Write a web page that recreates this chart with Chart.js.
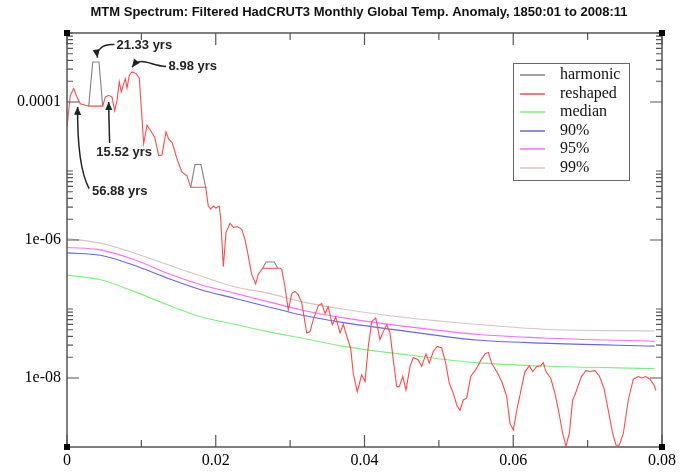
<!DOCTYPE html>
<html>
<head>
<meta charset="utf-8">
<script src="https://cdn.jsdelivr.net/npm/chart.js@4.4.0/dist/chart.umd.min.js"></script>
<style>
    html, body { margin: 0; padding: 0; background: #fff; }
    #wrap { width: 688px; height: 472px; position: relative; }
</style>
</head>
<body>
<div id="wrap"><canvas id="mtmChart"></canvas></div>
<script>
// ---- data ----
var titleText = 'MTM Spectrum: Filtered HadCRUT3 Monthly Global Temp. Anomaly, 1850:01 to 2008:11';

// reshaped spectrum
var redFreq = [0, 0.00044, 0.0009, 0.00134, 0.00179, 0.00292, 0.0048, 0.00515, 0.0056, 0.00605,
    0.00641, 0.00672, 0.00703, 0.0073, 0.00762, 0.00784, 0.00807, 0.00838, 0.00874, 0.00928,
    0.00972, 0.01031, 0.01076, 0.0112, 0.01179, 0.01233, 0.01277, 0.01331, 0.01367, 0.01412,
    0.01479, 0.01546, 0.01613, 0.01663, 0.01865, 0.019, 0.01932, 0.01967, 0.02003, 0.02048,
    0.02067, 0.02102, 0.02138, 0.02192, 0.02236, 0.0229, 0.02349, 0.02393, 0.02438, 0.02483,
    0.02537, 0.02572, 0.02631, 0.02864, 0.02887, 0.02931, 0.02975, 0.03025, 0.03066, 0.0311,
    0.03156, 0.03223, 0.03267, 0.03312, 0.03379, 0.03425, 0.03469, 0.03513, 0.03567, 0.03613,
    0.03671, 0.03715, 0.03769, 0.03814, 0.03849, 0.03903, 0.03962, 0.04007, 0.04051, 0.04097,
    0.04151, 0.04208, 0.04253, 0.04298, 0.04343, 0.04387, 0.04433, 0.04468, 0.04514, 0.04558,
    0.04612, 0.04656, 0.04723, 0.04769, 0.04827, 0.04871, 0.04925, 0.04979, 0.05038, 0.05092,
    0.0514, 0.05194, 0.0524, 0.05284, 0.05328, 0.05374, 0.05428, 0.05509, 0.05567, 0.0562,
    0.05665, 0.0571, 0.05777, 0.05845, 0.05912, 0.05956, 0.06001, 0.06047, 0.06114, 0.06158,
    0.06216, 0.06262, 0.06315, 0.06369, 0.06404, 0.0644, 0.06504, 0.06561, 0.06615, 0.06665,
    0.06709, 0.06754, 0.06799, 0.0683, 0.06875, 0.0692, 0.06978, 0.07032, 0.07099, 0.07157,
    0.0722, 0.07278, 0.07337, 0.07382, 0.07426, 0.0748, 0.07547, 0.07614, 0.07681, 0.07727,
    0.07781, 0.07839, 0.07892, 0.07919];
var redPower = [4.3e-5, 1.25e-4, 1.56e-4, 1.18e-4, 9.4e-5, 8.7e-5, 8.7e-5, 1.18e-4, 1.25e-4, 1.18e-4,
    7.5e-5, 1.05e-4, 1.95e-4, 1.4e-4, 1.85e-4, 2.18e-4, 1.6e-4, 2.44e-4, 2.73e-4, 2.58e-4,
    2.23e-4, 2.5e-5, 4.6e-5, 3.9e-5, 3.1e-5, 1.67e-5, 1.71e-5, 3.7e-5, 2.9e-5, 2.6e-5,
    1.5e-5, 9.6e-6, 8.5e-6, 5.8e-6, 5.8e-6, 3.1e-6, 2.8e-6, 3.1e-6, 2.9e-6, 3.1e-6,
    2.0e-6, 4.1e-7, 1.28e-6, 1.75e-6, 1.52e-6, 1.57e-6, 1.43e-6, 1.02e-6, 5.8e-7, 3.2e-7,
    2.3e-7, 3.2e-7, 3.9e-7, 3.9e-7, 3.75e-7, 2.1e-7, 9.7e-8, 1.7e-7, 1.8e-7, 1.6e-7,
    1.24e-7, 4.5e-8, 4.7e-8, 7.0e-8, 1.12e-7, 1.2e-7, 8.6e-8, 1.07e-7, 5.9e-8, 7.6e-8,
    4.5e-8, 6.0e-8, 3.8e-8, 2.7e-8, 1.17e-8, 6.3e-9, 1.11e-8, 8.9e-9, 2.86e-8, 6.6e-8,
    7.4e-8, 3.6e-8, 4.7e-8, 5.9e-8, 4.5e-8, 1.83e-8, 7.5e-9, 7.5e-9, 1.05e-8, 6.7e-9,
    1.47e-8, 1.98e-8, 1.83e-8, 1.47e-8, 2.24e-8, 1.64e-8, 2.42e-8, 2.86e-8, 2.72e-8, 1.64e-8,
    8.4e-9, 6.0e-9, 4.06e-9, 3.4e-9, 4.8e-9, 5.1e-9, 1.05e-8, 1.39e-8, 1.83e-8, 2.24e-8,
    2.34e-8, 1.64e-8, 1.24e-8, 8.9e-9, 5.4e-9, 2.2e-9, 1.76e-9, 3.4e-9, 7.5e-9, 1.24e-8,
    1.5e-8, 1.24e-8, 1.47e-8, 1.5e-8, 1.67e-8, 1.24e-8, 9.9e-9, 6.0e-9, 3.1e-9, 1.57e-9,
    1.03e-9, 1.57e-9, 4.8e-9, 5.7e-9, 7.9e-9, 1.07e-8, 1.28e-8, 1.24e-8, 1.28e-8, 1.07e-8,
    7.1e-9, 3.4e-9, 1.57e-9, 1.06e-9, 1.06e-9, 1.57e-9, 4.8e-9, 9.6e-9, 1.05e-8, 1.0e-8,
    1.05e-8, 9.6e-9, 7.9e-9, 6.6e-9];

// harmonic peaks (null = break between peaks)
var harmFreq = [0.00292, 0.00346, 0.0043, 0.0048, 0.01, 0.01663, 0.01721, 0.01802, 0.01865, 0.022,
    0.02631, 0.02676, 0.02787, 0.02833];
var harmPower = [8.7e-5, 3.8e-4, 3.8e-4, 8.7e-5, null, 5.8e-6, 1.24e-5, 1.24e-5, 5.8e-6, null,
    3.9e-7, 4.8e-7, 4.8e-7, 3.9e-7];

// confidence levels
var limFreq = [0, 0.0045, 0.009, 0.0135, 0.018, 0.0225, 0.027, 0.0315, 0.037, 0.046, 0.055, 0.064, 0.079];
var medianVals = [3.1e-7, 2.65e-7, 1.8e-7, 1.15e-7, 7.7e-8, 6.0e-8, 4.7e-8, 3.8e-8, 2.9e-8, 2.15e-8, 1.67e-8, 1.49e-8, 1.37e-8];
var p90Vals = [6.5e-7, 6.0e-7, 4.3e-7, 2.8e-7, 1.9e-7, 1.43e-7, 1.08e-7, 8.2e-8, 6.4e-8, 4.7e-8, 3.55e-8, 3.2e-8, 2.9e-8];
var p95Vals = [7.8e-7, 7.2e-7, 5.2e-7, 3.3e-7, 2.25e-7, 1.7e-7, 1.28e-7, 9.7e-8, 7.5e-8, 5.5e-8, 4.3e-8, 3.8e-8, 3.4e-8];
var p99Vals = [1.05e-6, 9.0e-7, 6.5e-7, 4.4e-7, 3.0e-7, 2.1e-7, 1.7e-7, 1.28e-7, 1.0e-7, 7.4e-8, 6.0e-8, 5.1e-8, 4.8e-8];

// axes
var xTickValues = [0, 0.02, 0.04, 0.06, 0.08];
var xTickLabels = ['0', '0.02', '0.04', '0.06', '0.08'];
var xMinorValues = [0.01, 0.03, 0.05, 0.07];
var yTickValues = [1e-8, 1e-6, 1e-4];
var yTickLabels = ['1e-08', '1e-06', '0.0001'];

// annotated peaks
var annoLabels = ['21.33 yrs', '8.98 yrs', '15.52 yrs', '56.88 yrs'];
var annoFreq = [0.0041, 0.00875, 0.0056, 0.00143];
var annoPower = [4.4e-4, 3.2e-4, 1.0e-4, 8.5e-5];

var legendNames = ['harmonic', 'reshaped', 'median', '90%', '95%', '99%'];

// ---- styling / layout ----
var colHarm = '#808080', colRed = '#ff4a4a', colMed = '#7cf07c', col90 = '#6666e6', col95 = '#ff6cff', col99 = '#d9c2c2';
var legendColors = [colHarm, colRed, colMed, col90, col95, col99];
var serif = '"Liberation Serif", "Times New Roman", serif';
var sans = '"Liberation Sans", Arial, sans-serif';
// pixel offsets of label text and curve control points, relative to arrow tip
var annoShapes = [
    { text: [19, -12], path: [[17, -13], [3, -14], [-1, -6]] },
    { text: [36.5, -0.7], path: [[34, -0.7], [18, -1], [9, -12]] },
    { text: [-12.3, 50], path: [[1, 41], [0.6, 28], [0.2, 14]] },
    { text: [14.3, 84.4], path: [[11.5, 81.7], [1.3, 63], [-0.3, 31]] }
];

function pairs(xs, ys) {
    return xs.map(function (x, i) { return { x: x, y: ys[i] }; });
}

function drawArrow(ctx, tx, ty, shape) {
    var p = shape.path;
    ctx.beginPath();
    ctx.moveTo(tx + p[0][0], ty + p[0][1]);
    ctx.bezierCurveTo(tx + p[1][0], ty + p[1][1], tx + p[2][0], ty + p[2][1], tx, ty);
    ctx.stroke();
    // arrow head along last control direction
    var dx = -p[2][0], dy = -p[2][1];
    var len = Math.sqrt(dx * dx + dy * dy);
    dx /= len; dy /= len;
    var hl = 8, hw = 3.6;
    ctx.beginPath();
    ctx.moveTo(tx, ty);
    ctx.lineTo(tx - dx * hl - dy * hw, ty - dy * hl + dx * hw);
    ctx.lineTo(tx - dx * hl + dy * hw, ty - dy * hl - dx * hw);
    ctx.closePath();
    ctx.fill();
}

var decorPlugin = {
    id: 'decor',
    afterDatasetsDraw: function (chart) {
        var ctx = chart.ctx, a = chart.chartArea;
        var xs = chart.scales.x, ys = chart.scales.y;
        ctx.save();

        // frame
        ctx.strokeStyle = '#555';
        ctx.lineWidth = 1.5;
        ctx.strokeRect(a.left, a.top, a.right - a.left, a.bottom - a.top);

        // inward ticks on all four sides
        ctx.lineWidth = 1.2;
        ctx.beginPath();
        xTickValues.concat(xMinorValues).forEach(function (v) {
            var px = xs.getPixelForValue(v);
            var len = xMinorValues.indexOf(v) >= 0 ? 7 : 12;
            ctx.moveTo(px, a.bottom); ctx.lineTo(px, a.bottom - len);
            ctx.moveTo(px, a.top); ctx.lineTo(px, a.top + len);
        });
        yTickValues.forEach(function (v) {
            var py = ys.getPixelForValue(v);
            ctx.moveTo(a.left, py); ctx.lineTo(a.left + 12, py);
            ctx.moveTo(a.right, py); ctx.lineTo(a.right - 12, py);
            for (var k = 2; k <= 10; k++) {
                var pm = ys.getPixelForValue(v * k);
                ctx.moveTo(a.left, pm); ctx.lineTo(a.left + 6, pm);
                ctx.moveTo(a.right, pm); ctx.lineTo(a.right - 6, pm);
            }
        });
        ctx.stroke();

        // corner handles
        ctx.fillStyle = '#000';
        [[a.left, a.top], [a.right, a.top], [a.left, a.bottom], [a.right, a.bottom]].forEach(function (c) {
            ctx.fillRect(c[0] - 3, c[1] - 3, 6, 6);
        });

        // legend box
        ctx.fillStyle = '#fff';
        ctx.fillRect(513, 63, 116, 117);
        ctx.strokeStyle = '#666';
        ctx.lineWidth = 1;
        ctx.strokeRect(513.5, 63.5, 116, 117);
        ctx.font = '16px ' + serif;
        ctx.textBaseline = 'middle';
        ctx.textAlign = 'left';
        ctx.lineWidth = 1.5;
        legendNames.forEach(function (name, i) {
            var y = Math.round(75 + i * 18.6);
            ctx.strokeStyle = legendColors[i];
            ctx.beginPath();
            ctx.moveTo(520, y); ctx.lineTo(545, y);
            ctx.stroke();
            ctx.fillStyle = '#111';
            ctx.fillText(name, 560, y);
        });

        // peak annotations
        ctx.strokeStyle = '#222';
        ctx.fillStyle = '#222';
        ctx.lineWidth = 1.5;
        ctx.font = 'bold 13px ' + sans;
        annoLabels.forEach(function (lab, i) {
            var tx = xs.getPixelForValue(annoFreq[i]);
            var ty = ys.getPixelForValue(annoPower[i]);
            var s = annoShapes[i];
            drawArrow(ctx, tx, ty, s);
            ctx.fillText(lab, tx + s.text[0], ty + s.text[1]);
        });

        // title
        ctx.fillStyle = '#111';
        ctx.textAlign = 'center';
        ctx.fillText(titleText, 359, 12);
        ctx.restore();
    }
};

function lineSet(label, data, color, order, smooth) {
    return {
        label: label,
        data: data,
        borderColor: color,
        backgroundColor: color,
        borderWidth: 1.1,
        pointRadius: 0,
        fill: false,
        spanGaps: false,
        order: order,
        tension: 0,
        cubicInterpolationMode: smooth ? 'monotone' : 'default'
    };
}

new Chart(document.getElementById('mtmChart'), {
    type: 'line',
    data: {
        datasets: [
            lineSet('reshaped', pairs(redFreq, redPower), colRed, 0, false),
            lineSet('harmonic', pairs(harmFreq, harmPower), colHarm, 1, false),
            lineSet('median', pairs(limFreq, medianVals), colMed, 2, true),
            lineSet('90%', pairs(limFreq, p90Vals), col90, 3, true),
            lineSet('95%', pairs(limFreq, p95Vals), col95, 4, true),
            lineSet('99%', pairs(limFreq, p99Vals), col99, 5, true)
        ]
    },
    options: {
        responsive: true,
        maintainAspectRatio: false,
        animation: false,
        events: [],
        layout: { padding: { top: 33, right: 26, left: 0, bottom: 0 } },
        plugins: {
            legend: { display: false },
            title: { display: false },
            tooltip: { enabled: false }
        },
        scales: {
            x: {
                type: 'linear',
                min: 0,
                max: 0.08,
                grid: { display: false, drawTicks: false },
                border: { display: false },
                afterBuildTicks: function (s) {
                    s.ticks = xTickValues.map(function (v) { return { value: v }; });
                },
                afterFit: function (s) { s.height = 25; },
                ticks: {
                    autoSkip: false,
                    maxRotation: 0,
                    padding: 4,
                    color: '#000',
                    font: { family: serif, size: 16 },
                    callback: function (v, i) { return xTickLabels[i]; }
                }
            },
            y: {
                type: 'logarithmic',
                min: 1e-9,
                max: 1e-3,
                grid: { display: false, drawTicks: false },
                border: { display: false },
                afterBuildTicks: function (s) {
                    s.ticks = yTickValues.map(function (v) { return { value: v }; });
                },
                afterFit: function (s) { s.width = 67; },
                ticks: {
                    autoSkip: false,
                    padding: 6,
                    color: '#000',
                    font: { family: serif, size: 16 },
                    callback: function (v, i) { return yTickLabels[i]; }
                }
            }
        }
    },
    plugins: [decorPlugin]
});
</script>
</body>
</html>
